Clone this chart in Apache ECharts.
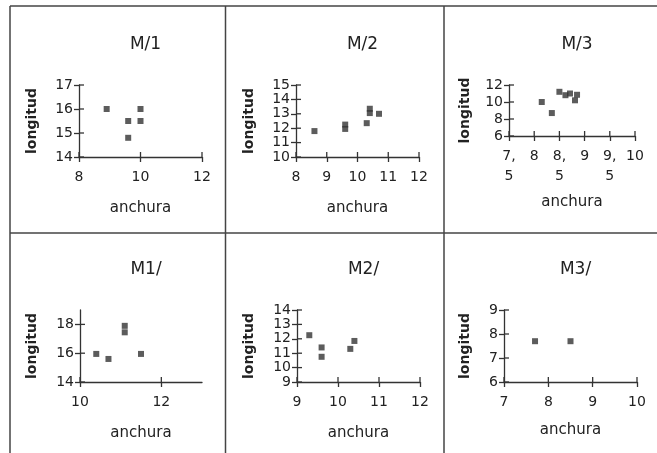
<!DOCTYPE html>
<html>
<head>
<meta charset="utf-8">
<script src="https://cdn.jsdelivr.net/npm/echarts@6/dist/echarts.min.js"></script>
<style>html,body{margin:0;padding:0;background:#fff;}#c{width:657px;height:453px;}</style>
</head>
<body>
<div id="c"></div>
<script>
// ---- data ----
const titles = ["M/1", "M/2", "M/3", "M1/", "M2/", "M3/"];
const m1 = [[8.9, 16.0], [9.6, 15.5], [9.6, 14.8], [10.0, 16.0], [10.0, 15.5]];
const m2 = [[8.6, 11.8], [9.6, 12.25], [9.6, 11.95], [10.3, 12.35], [10.4, 13.35], [10.4, 13.05], [10.7, 13.0]];
const m3 = [[8.15, 10.0], [8.35, 8.7], [8.5, 11.2], [8.62, 10.8], [8.71, 11.0], [8.85, 10.85], [8.81, 10.2]];
const m1b = [[10.4, 15.95], [10.7, 15.6], [11.1, 17.9], [11.1, 17.45], [11.5, 15.95]];
const m2b = [[9.3, 12.25], [9.6, 11.4], [9.6, 10.75], [10.3, 11.3], [10.4, 11.85]];
const m3b = [[7.7, 7.7], [8.5, 7.7]];
const seriesData = [m1, m2, m3, m1b, m2b, m3b];

const xRanges = [[8, 12], [8, 12], [7.5, 10], [10, 13], [9, 12], [7, 10]];
const yRanges = [[14, 17], [10, 15], [6, 12], [14, 19], [9, 14], [6, 9]];
const xTicks = [[8, 10, 12], [8, 9, 10, 11, 12], [7.5, 8, 8.5, 9, 9.5, 10], [10, 12], [9, 10, 11, 12], [7, 8, 9, 10]];
const yTicks = [[14, 15, 16, 17], [10, 11, 12, 13, 14, 15], [6, 8, 10, 12], [14, 16, 18], [9, 10, 11, 12, 13, 14], [6, 7, 8, 9]];
const xName = "anchura";
const yName = "longitud";

// ---- layout ----
const grids = [
  {left: 79, top: 85, width: 123, height: 72},
  {left: 296, top: 85, width: 123, height: 72},
  {left: 509, top: 85, width: 126, height: 51},
  {left: 80, top: 310, width: 122, height: 72},
  {left: 297, top: 310, width: 123, height: 72},
  {left: 504, top: 310, width: 133, height: 72}
];
const xNameGap = [44, 44, 59, 44, 44, 41];
const yNameGap = [40, 40, 37, 41, 41, 32];
const titleY = [31, 31, 31, 256, 256, 256];

const FONT = "DejaVu Sans";
const AX = "#333";
const TICK = 5;

const xAxes = [], yAxes = [], series = [], title = [];
grids.forEach((g, i) => {
  const fmt = v => String(v).replace('.', ',\n');
  xAxes.push({
    type: 'value', gridIndex: i, position: 'bottom', min: xRanges[i][0], max: xRanges[i][1],
    splitLine: {show: false},
    axisLine: {show: true, onZero: false, lineStyle: {color: AX, width: 1.3}},
    axisTick: {show: true, length: TICK, customValues: xTicks[i], lineStyle: {color: AX, width: 1.3}},
    axisLabel: {customValues: xTicks[i], formatter: fmt, margin: 10, color: '#222', fontFamily: FONT, fontSize: 14, lineHeight: 20},
    name: xName, nameLocation: 'middle', nameGap: xNameGap[i],
    nameTextStyle: {fontFamily: FONT, fontSize: 15, color: '#222'}
  });
  yAxes.push({
    type: 'value', gridIndex: i, position: 'left', min: yRanges[i][0], max: yRanges[i][1],
    splitLine: {show: false},
    axisLine: {show: true, onZero: false, lineStyle: {color: AX, width: 1.3}},
    axisTick: {show: true, length: TICK, customValues: yTicks[i], lineStyle: {color: AX, width: 1.3}},
    axisLabel: {customValues: yTicks[i], margin: 6, color: '#222', fontFamily: FONT, fontSize: 14},
    name: yName, nameLocation: 'middle', nameGap: yNameGap[i],
    nameTextStyle: {fontFamily: FONT, fontSize: 14, fontWeight: 'bold', color: '#222'}
  });
  series.push({
    type: 'scatter', xAxisIndex: i, yAxisIndex: i, data: seriesData[i],
    symbol: 'rect', symbolSize: 6, itemStyle: {color: '#333'}, silent: true, z: 3
  });
  // inner half of the crossing tick marks, placed through the axes' own scales
  const tickItems = xTicks[i].map(v => [v, 0]).concat(yTicks[i].map(v => [v, 1]));
  series.push({
    type: 'custom', xAxisIndex: i, yAxisIndex: i, data: tickItems, clip: false, silent: true, z: 2,
    encode: {x: -1, y: -1},
    renderItem: (params, api) => {
      const v = api.value(0), kind = api.value(1);
      if (kind === 0) {
        const p = api.coord([v, yRanges[i][0]]);
        return {type: 'line', shape: {x1: p[0], y1: p[1], x2: p[0], y2: p[1] - TICK}, style: {stroke: AX, lineWidth: 1.3}};
      }
      const p = api.coord([xRanges[i][0], v]);
      return {type: 'line', shape: {x1: p[0], y1: p[1], x2: p[0] + TICK, y2: p[1]}, style: {stroke: AX, lineWidth: 1.3}};
    }
  });
  title.push({
    text: titles[i], left: g.left + g.width / 2, top: titleY[i], textAlign: 'center',
    textStyle: {fontFamily: FONT, fontSize: 17, fontWeight: 'normal', color: '#222'}
  });
});

const lineStyle = {stroke: '#444', lineWidth: 1.5};
const graphic = [
  {type: 'line', shape: {x1: 10, y1: 6, x2: 657, y2: 6}, style: lineStyle},
  {type: 'line', shape: {x1: 10, y1: 6, x2: 10, y2: 453}, style: lineStyle},
  {type: 'line', shape: {x1: 225.5, y1: 6, x2: 225.5, y2: 453}, style: lineStyle},
  {type: 'line', shape: {x1: 444, y1: 6, x2: 444, y2: 453}, style: lineStyle},
  {type: 'line', shape: {x1: 10, y1: 233, x2: 657, y2: 233}, style: lineStyle}
];

const chart = echarts.init(document.getElementById('c'), null, {renderer: 'canvas'});
chart.setOption({
  animation: false,
  backgroundColor: '#fff',
  title: title,
  grid: grids,
  xAxis: xAxes,
  yAxis: yAxes,
  series: series,
  graphic: graphic
});
</script>
</body>
</html>
